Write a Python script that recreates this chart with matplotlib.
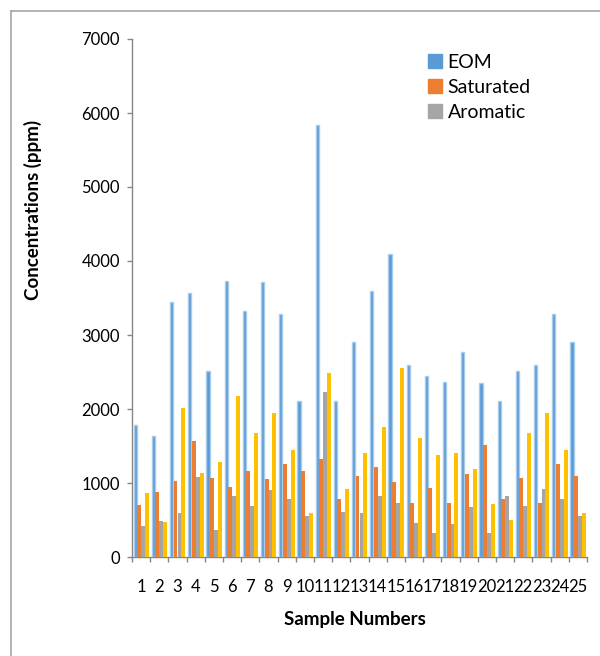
import numpy as np
import matplotlib
matplotlib.use("Agg")
import matplotlib.pyplot as plt
from matplotlib.lines import Line2D
from matplotlib.patches import Patch

# Concentrations (ppm) per sample
samples = [str(i) for i in range(1, 26)]
eom = [1790, 1630, 3440, 3570, 2510, 3730, 3320, 3710, 3280, 2110,
       5840, 2110, 2900, 3600, 4090, 2600, 2440, 2370, 2770, 2350,
       2110, 2510, 2600, 3280, 2900]
saturated = [700, 880, 1030, 1570, 1070, 940, 1160, 1050, 1260, 1160,
             1320, 790, 1100, 1210, 1010, 730, 930, 730, 1120, 1520,
             790, 1070, 730, 1260, 1100]
aromatic = [420, 490, 600, 1080, 370, 820, 690, 910, 780, 560,
            2230, 610, 600, 830, 730, 460, 330, 440, 670, 320,
            820, 690, 920, 780, 560]
nso = [870, 470, 2010, 1130, 1280, 2170, 1680, 1940, 1450, 600,
       2490, 920, 1400, 1760, 2550, 1610, 1380, 1400, 1190, 720,
       500, 1680, 1940, 1450, 600]
y_ticks = [0, 1000, 2000, 3000, 4000, 5000, 6000, 7000]

plt.rcParams["font.family"] = ["Lato", "DejaVu Sans"]

W, H = 600, 656
fig = plt.figure(figsize=(W / 100, H / 100), dpi=100)
ax = fig.add_axes([132 / W, 99 / H, 455 / W, 518 / H])

x = np.arange(len(samples))
w = 0.216
c_eom, c_sat, c_aro, c_nso = "#5B9BD5", "#ED7D31", "#A5A5A5", "#FFC000"

ax.bar(x - 1.5 * w, eom, w * 0.8, color=c_eom, edgecolor="#A8CCEC",
       linewidth=1.0, zorder=3)
ax.bar(x - 0.5 * w, saturated, w, color=c_sat, linewidth=0, zorder=3)
ax.bar(x + 0.5 * w, aromatic, w, color=c_aro, linewidth=0, zorder=3)
ax.bar(x + 1.5 * w, nso, w, color=c_nso, linewidth=0, zorder=3)

ax.set_xlim(-0.5, len(samples) - 0.5)
ax.set_ylim(0, 7000)
ax.set_yticks(y_ticks)
ax.set_yticklabels([str(v) for v in y_ticks])
ax.set_xticks(x)
ax.set_xticklabels(samples)
ax.set_xticks(np.arange(-0.5, len(samples), 1), minor=True)

axis_col = "#868686"
for side in ("top", "right"):
    ax.spines[side].set_visible(False)
for side in ("left", "bottom"):
    ax.spines[side].set_color(axis_col)
    ax.spines[side].set_linewidth(1.0)

ax.tick_params(axis="y", length=3.6, width=1, color=axis_col, pad=5,
               labelsize=12, labelcolor="#000000")
ax.tick_params(axis="x", which="major", length=0, pad=16,
               labelsize=12, labelcolor="#000000")
ax.tick_params(axis="x", which="minor", length=3.6, width=1, color=axis_col)

fig.text(33 / W, 1 - 210 / H, "Concentrations (ppm)", rotation=90,
         ha="center", va="center", fontsize=13.5, fontweight="bold")
fig.text(355 / W, 1 - 620 / H, "Sample Numbers", ha="center",
         va="center", fontsize=13.5, fontweight="bold")

handles = [Patch(color=c_eom), Patch(color=c_sat), Patch(color=c_aro)]
ax.legend(handles, ["EOM", "Saturated", "Aromatic"], loc="upper left",
          bbox_to_anchor=(428 / W, 1 - 54 / H), bbox_transform=fig.transFigure,
          frameon=False, fontsize=14, handlelength=0.7, handleheight=0.7,
          handletextpad=0.3, labelspacing=0.4, borderaxespad=0, borderpad=0)

# chart frame (continues past the right and bottom edges)
fig.add_artist(Line2D([11 / W, 11 / W], [0, 1 - 11 / H], color="#A6A6A6",
                      linewidth=1.2, transform=fig.transFigure))
fig.add_artist(Line2D([11 / W, 1], [1 - 11 / H, 1 - 11 / H], color="#A6A6A6",
                      linewidth=1.2, transform=fig.transFigure))

fig.savefig("out.png", dpi=100, facecolor="white")
